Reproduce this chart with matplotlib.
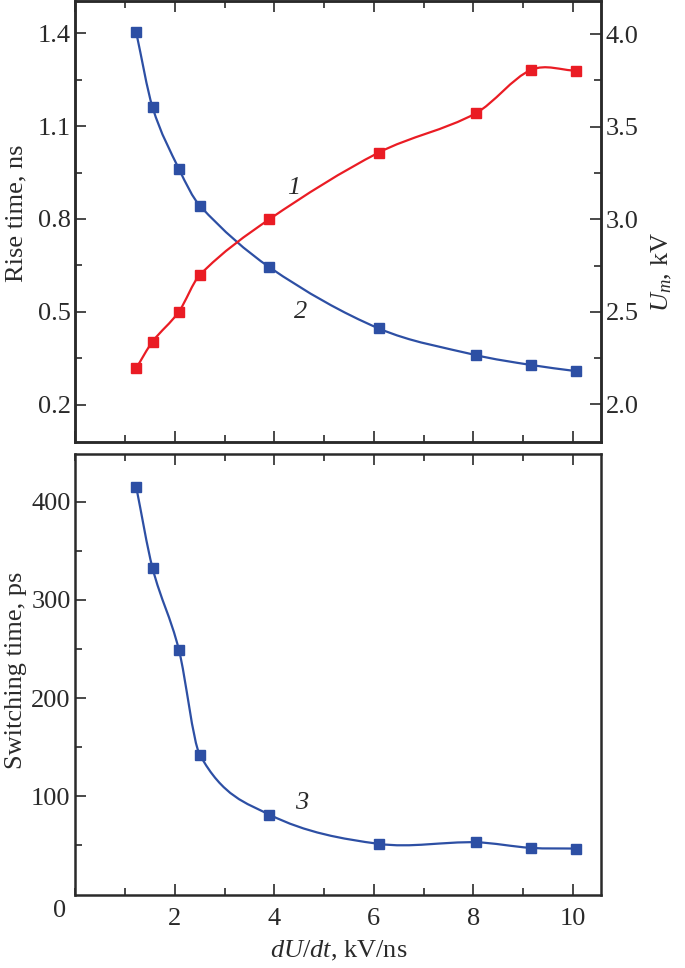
import matplotlib
matplotlib.use('Agg')
import matplotlib.pyplot as plt
import numpy as np
from matplotlib.path import Path
from matplotlib.patches import PathPatch
from matplotlib.ticker import MultipleLocator, FormatStrFormatter

# data
dudt = [1.22, 1.55, 2.08, 2.5, 3.9, 6.1, 8.05, 9.16, 10.07]
rise_time = [1.404, 1.161, 0.962, 0.843, 0.644, 0.446, 0.360, 0.328, 0.308]   # curve 2, ns
u_max = [2.195, 2.339, 2.501, 2.699, 3.0, 3.36, 3.572, 3.806, 3.802]         # curve 1, kV
switch_time = [415.4, 332.4, 249.2, 142.4, 81.4, 51.6, 53.2, 47.5, 46.8]      # curve 3, ps

plt.rcParams['font.family'] = ['Liberation Serif', 'DejaVu Serif']
plt.rcParams['mathtext.fontset'] = 'custom'
plt.rcParams['mathtext.rm'] = 'Liberation Serif'
plt.rcParams['mathtext.it'] = 'Liberation Serif:italic'

BLUE = '#2d4fa4'
RED = '#ea1c24'
INK = '#2a2a2a'
FS = 19


def smooth_path(x, y):
    # cubic bezier segments through the points (hermite tangents)
    x = np.asarray(x, float)
    y = np.asarray(y, float)
    n = len(x)
    m = np.zeros(n)
    for i in range(n):
        if i == 0:
            m[i] = (y[1] - y[0]) / (x[1] - x[0])
        elif i == n - 1:
            m[i] = (y[-1] - y[-2]) / (x[-1] - x[-2])
        else:
            m[i] = (y[i + 1] - y[i - 1]) / (x[i + 1] - x[i - 1])
    verts = [(x[0], y[0])]
    codes = [Path.MOVETO]
    for i in range(n - 1):
        h = x[i + 1] - x[i]
        verts += [(x[i] + h / 3, y[i] + m[i] * h / 3),
                  (x[i + 1] - h / 3, y[i + 1] - m[i + 1] * h / 3),
                  (x[i + 1], y[i + 1])]
        codes += [Path.CURVE4] * 3
    return Path(verts, codes)


def curve(ax, x, y, color):
    ax.add_patch(PathPatch(smooth_path(x, y), facecolor='none', edgecolor=color, lw=1.6, zorder=2))
    ax.plot(x, y, ls='none', marker='s', ms=7, color=color, zorder=3)


def style(ax):
    for s in ax.spines.values():
        s.set_linewidth(1.8)
        s.set_color(INK)
    ax.tick_params(which='both', direction='in', width=1.2, color=INK, labelcolor=INK, labelsize=FS)
    ax.tick_params(which='major', length=8)
    ax.tick_params(which='minor', length=5)


fig = plt.figure(figsize=(6.85, 9.68), dpi=100)
ax1 = fig.add_axes([0.1102, 0.5434, 0.7672, 0.4551])
ax3 = fig.add_axes([0.1102, 0.0759, 0.7672, 0.4551])

# top panel
curve(ax1, dudt, rise_time, BLUE)
ax1.set_xlim(0, 10.57)
ax1.set_ylim(0.079, 1.503)
ax1.xaxis.set_major_locator(MultipleLocator(2))
ax1.xaxis.set_minor_locator(MultipleLocator(1))
ax1.set_yticks([0.2, 0.5, 0.8, 1.1, 1.4])
ax1.set_yticks([0.35, 0.65, 0.95, 1.25], minor=True)
ax1.yaxis.set_major_formatter(FormatStrFormatter('%.1f'))
style(ax1)
ax1.tick_params(axis='x', which='both', top=True, bottom=True, labelbottom=False)
ax1.tick_params(axis='y', which='both', right=False)
ax1.set_ylabel('Rise time, ns', fontsize=FS, color=INK)
ax1.yaxis.set_label_coords(-0.092, 0.52)

ax2 = ax1.twinx()
curve(ax2, dudt, u_max, RED)
ax2.set_ylim(1.797, 4.176)
ax2.set_yticks([2.0, 2.5, 3.0, 3.5, 4.0])
ax2.yaxis.set_minor_locator(MultipleLocator(0.25))
ax2.yaxis.set_major_formatter(FormatStrFormatter('%.1f'))
style(ax2)
ax2.set_ylabel(r'$U_m$, kV', fontsize=FS, color=INK)
ax2.yaxis.set_label_coords(1.092, 0.386)

ax1.text(4.38, 0.9, '1', fontsize=FS, style='italic', color=INK, ha='center', va='center')
ax1.text(4.52, 0.50, '2', fontsize=FS, style='italic', color=INK, ha='center', va='center')

# bottom panel
curve(ax3, dudt, switch_time, BLUE)
ax3.set_xlim(0, 10.57)
ax3.set_ylim(0, 448.6)
ax3.set_xticks([2, 4, 6, 8, 10])
ax3.xaxis.set_minor_locator(MultipleLocator(1))
ax3.set_yticks([100, 200, 300, 400])
ax3.set_yticks([50, 150, 250, 350], minor=True)
style(ax3)
ax3.tick_params(axis='x', which='both', top=True, bottom=True, pad=10)
ax3.set_ylabel('Switching time, ps', fontsize=FS, color=INK)
ax3.yaxis.set_label_coords(-0.092, 0.51)
ax3.set_xlabel(r'$dU/dt$, kV/ns', fontsize=FS, color=INK, labelpad=6)
ax3.annotate('0', xy=(0, 0), xycoords='data', xytext=(-16, -16), textcoords='offset pixels',
             fontsize=FS, color=INK, ha='center', va='center')
ax3.text(4.54, 93, '3', fontsize=FS, style='italic', color=INK, ha='center', va='center')

fig.savefig('out.png', dpi=100)
